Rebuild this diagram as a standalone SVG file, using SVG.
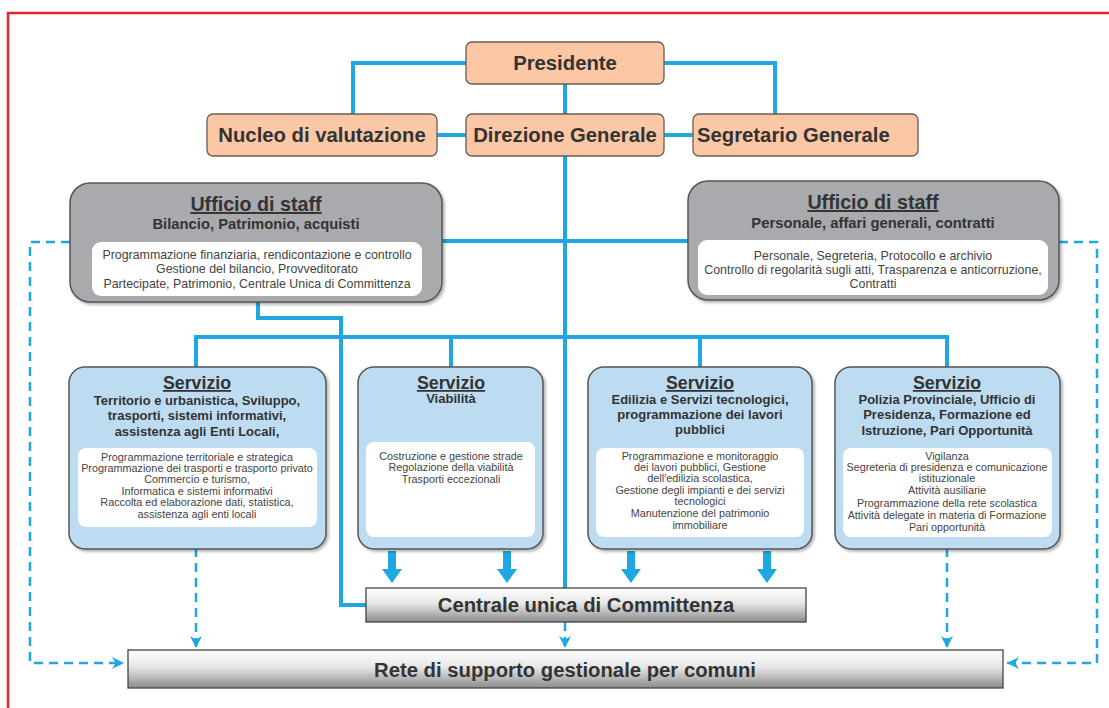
<svg xmlns="http://www.w3.org/2000/svg" width="1109" height="708" viewBox="0 0 1109 708">
<defs>
<style>
.frame{fill:none;stroke:#e0262c;stroke-width:2.5}
.peach{fill:#fbc7a5;stroke:#6b5b52;stroke-width:1.3}
.staff{fill:#a9aaad;stroke:#555;stroke-width:1.5}
.serv{fill:#bddcf2;stroke:#555;stroke-width:1.5}
.inner{fill:#fff;stroke:none}
.ln{fill:none;stroke:#1ea7e1;stroke-width:4}
.dash{fill:none;stroke:#1ea7e1;stroke-width:2.5;stroke-dasharray:9 6}
.bar{fill:url(#gb);stroke:#444;stroke-width:1.3}
text{font-family:"Liberation Sans",Arial,sans-serif;fill:#333}
.t18{font-size:20.3px;font-weight:bold;text-anchor:middle}
.tt{font-size:19.7px;font-weight:bold;text-anchor:middle;text-decoration:underline}
.ts{font-size:14.8px;font-weight:bold;text-anchor:middle}
.ti{font-size:12.4px;text-anchor:middle;fill:#444}
.st{font-size:17.8px;font-weight:bold;text-anchor:middle;text-decoration:underline}
.ss{font-size:13px;font-weight:bold;text-anchor:middle}
.si{font-size:10.8px;text-anchor:middle;fill:#444}
</style>
<linearGradient id="gb" x1="0" y1="0" x2="0" y2="1">
<stop offset="0" stop-color="#ffffff"/>
<stop offset="0.45" stop-color="#e6e6e6"/>
<stop offset="1" stop-color="#8c8c8c"/>
</linearGradient>
<filter id="sh" x="-5%" y="-5%" width="115%" height="120%">
<feDropShadow dx="2" dy="2" stdDeviation="1.5" flood-color="#000" flood-opacity="0.3"/>
</filter>
<marker id="ad" viewBox="0 0 10 10" refX="10" refY="5" markerWidth="12" markerHeight="12" orient="auto" markerUnits="userSpaceOnUse">
<path d="M0,0 L10,5 L0,10 L3,5 Z" fill="#1ea7e1"/>
</marker>
<path id="fat" d="M-4,0 H4 V18 H10 L0,32 L-10,18 H-4 Z" fill="#1ea7e1"/>
</defs>
<rect class="frame" x="8" y="13" width="1120" height="720"/>

<g id="connectors">
<path class="ln" d="M466,63 H353 V114"/>
<path class="ln" d="M664,63 H775 V114"/>
<path class="ln" d="M565,84 V114"/>
<path class="ln" d="M437,135 H466"/>
<path class="ln" d="M664,135 H693"/>
<path class="ln" d="M565,156 V588"/>
<path class="ln" d="M442,241 H688"/>
<path class="ln" d="M258,302 V318 H341 V605 H366"/>
<path class="ln" d="M196,368 V337 H947 V368"/>
<path class="ln" d="M451,337 V368"/>
<path class="ln" d="M700,337 V368"/>
<path class="dash" d="M70,242 H30 V663 H124" marker-end="url(#ad)"/>
<path class="dash" d="M1059,242 H1097 V663 H1007" marker-end="url(#ad)"/>
<path class="dash" d="M196,548 V648" marker-end="url(#ad)"/>
<path class="dash" d="M947,548 V648" marker-end="url(#ad)"/>
<path class="dash" d="M565,622 V648" marker-end="url(#ad)"/>
<use href="#fat" x="392" y="551"/>
<use href="#fat" x="507" y="551"/>
<use href="#fat" x="631" y="551"/>
<use href="#fat" x="767" y="551"/>
</g>

<g id="presidente">
<rect class="peach" x="466" y="42" width="198" height="42" rx="6"/>
<text class="t18" x="565" y="70">Presidente</text>
</g>
<g id="nucleo">
<rect class="peach" x="207" y="114" width="230" height="42" rx="6"/>
<text class="t18" x="322" y="142">Nucleo di valutazione</text>
</g>
<g id="direzione">
<rect class="peach" x="466" y="114" width="198" height="42" rx="6"/>
<text class="t18" x="565" y="142">Direzione Generale</text>
</g>
<g id="segretario">
<rect class="peach" x="693" y="114" width="225" height="42" rx="6"/>
<text class="t18" x="697" y="142" style="text-anchor:start">Segretario Generale</text>
</g>

<g id="staff-sx">
<rect class="staff" x="70" y="183" width="372" height="119" rx="20" filter="url(#sh)"/>
<text class="tt" x="256" y="211">Ufficio di staff</text>
<text class="ts" x="256" y="229">Bilancio, Patrimonio, acquisti</text>
<rect class="inner" x="92" y="242" width="330" height="54" rx="9"/>
<text class="ti" x="257" y="259">Programmazione finanziaria, rendicontazione e controllo</text>
<text class="ti" x="257" y="273">Gestione del bilancio, Provveditorato</text>
<text class="ti" x="257" y="288">Partecipate, Patrimonio, Centrale Unica di Committenza</text>
</g>
<g id="staff-dx">
<rect class="staff" x="688" y="181" width="371" height="119" rx="20" filter="url(#sh)"/>
<text class="tt" x="873" y="209">Ufficio di staff</text>
<text class="ts" x="873" y="228">Personale, affari generali, contratti</text>
<rect class="inner" x="698" y="240" width="350" height="55" rx="9"/>
<text class="ti" x="873" y="260">Personale, Segreteria, Protocollo e archivio</text>
<text class="ti" x="873" y="274">Controllo di regolarità sugli atti, Trasparenza e anticorruzione,</text>
<text class="ti" x="873" y="288">Contratti</text>
</g>

<g id="servizio-1">
<rect class="serv" x="69" y="367" width="257" height="182" rx="16" filter="url(#sh)"/>
<text class="st" x="197" y="389">Servizio</text>
<text class="ss" x="197" y="405">Territorio e urbanistica, Sviluppo,</text>
<text class="ss" x="197" y="420">trasporti, sistemi informativi,</text>
<text class="ss" x="197" y="436">assistenza agli Enti Locali,</text>
<rect class="inner" x="78" y="448" width="239" height="79" rx="8"/>
<text class="si" x="197" y="461">Programmazione territoriale e strategica</text>
<text class="si" x="197" y="472">Programmazione dei trasporti e trasporto privato</text>
<text class="si" x="197" y="483">Commercio e turismo,</text>
<text class="si" x="197" y="495">Informatica e sistemi informativi</text>
<text class="si" x="197" y="506">Raccolta ed elaborazione dati, statistica,</text>
<text class="si" x="197" y="518">assistenza agli enti locali</text>
</g>
<g id="servizio-2">
<rect class="serv" x="358" y="367" width="185" height="182" rx="16" filter="url(#sh)"/>
<text class="st" x="451" y="389">Servizio</text>
<text class="ss" x="451" y="403">Viabilità</text>
<rect class="inner" x="366" y="442" width="169" height="95" rx="8"/>
<text class="si" x="451" y="460">Costruzione e gestione strade</text>
<text class="si" x="451" y="471">Regolazione della viabilità</text>
<text class="si" x="451" y="483">Trasporti eccezionali</text>
</g>
<g id="servizio-3">
<rect class="serv" x="588" y="367" width="224" height="182" rx="16" filter="url(#sh)"/>
<text class="st" x="700" y="389">Servizio</text>
<text class="ss" x="700" y="404">Edilizia e Servizi tecnologici,</text>
<text class="ss" x="700" y="419">programmazione dei lavori</text>
<text class="ss" x="700" y="434">pubblici</text>
<rect class="inner" x="596" y="448" width="208" height="89" rx="8"/>
<text class="si" x="700" y="460">Programmazione e monitoraggio</text>
<text class="si" x="700" y="471">dei lavori pubblici, Gestione</text>
<text class="si" x="700" y="482">dell'edilizia scolastica,</text>
<text class="si" x="700" y="494">Gestione degli impianti e dei servizi</text>
<text class="si" x="700" y="505">tecnologici</text>
<text class="si" x="700" y="517">Manutenzione del patrimonio</text>
<text class="si" x="700" y="529">immobiliare</text>
</g>
<g id="servizio-4">
<rect class="serv" x="835" y="367" width="225" height="182" rx="16" filter="url(#sh)"/>
<text class="st" x="947" y="389">Servizio</text>
<text class="ss" x="947" y="404">Polizia Provinciale, Ufficio di</text>
<text class="ss" x="947" y="419">Presidenza, Formazione ed</text>
<text class="ss" x="947" y="435">Istruzione, Pari Opportunità</text>
<rect class="inner" x="843" y="448" width="209" height="89" rx="8"/>
<text class="si" x="947" y="460">Vigilanza</text>
<text class="si" x="947" y="471">Segreteria di presidenza e comunicazione</text>
<text class="si" x="947" y="482">istituzionale</text>
<text class="si" x="947" y="494">Attività ausiliarie</text>
<text class="si" x="947" y="507">Programmazione della rete scolastica</text>
<text class="si" x="947" y="519">Attività delegate in materia di Formazione</text>
<text class="si" x="947" y="531">Pari opportunità</text>
</g>

<g id="centrale">
<rect class="bar" x="366" y="588" width="440" height="34"/>
<text class="t18" x="586" y="612">Centrale unica di Committenza</text>
</g>
<g id="rete">
<rect class="bar" x="128" y="650" width="875" height="38"/>
<text class="t18" x="565" y="677">Rete di supporto gestionale per comuni</text>
</g>
</svg>
